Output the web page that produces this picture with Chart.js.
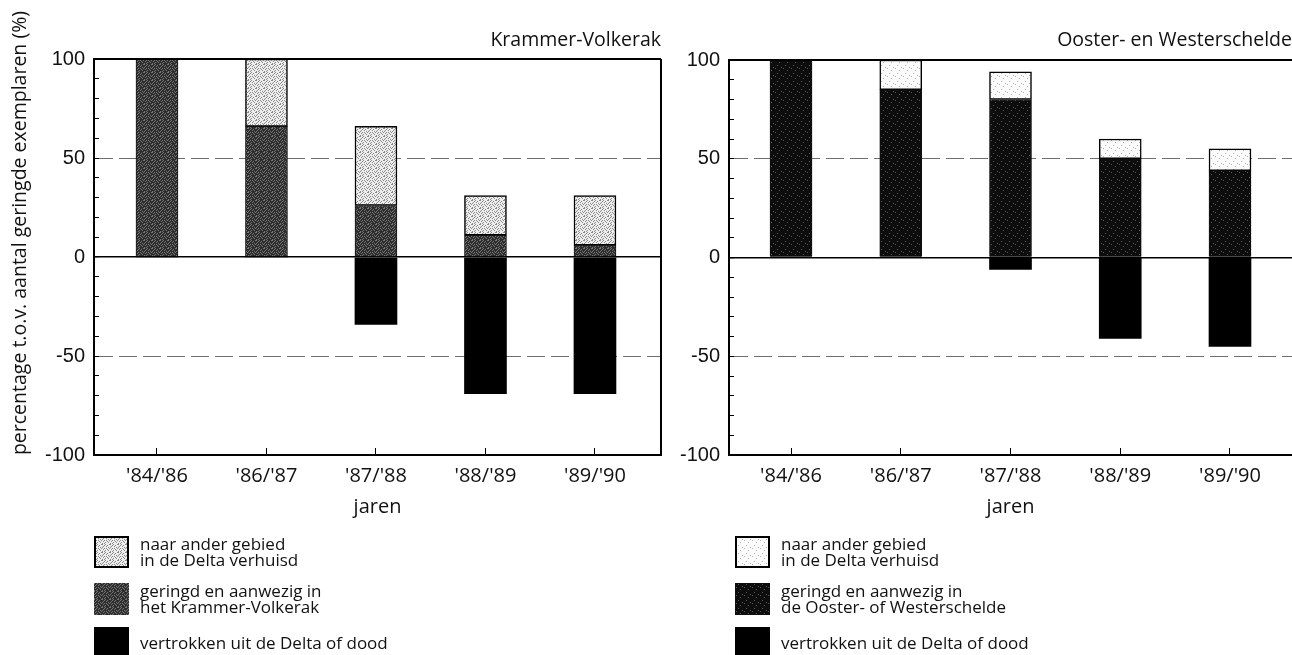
<!DOCTYPE html>
<html>
<head>
<meta charset="utf-8">
<script src="https://cdn.jsdelivr.net/npm/chart.js@4.4.1/dist/chart.umd.min.js"></script>
<style>
  html, body { margin: 0; padding: 0; background: #fff; }
  #wrap { position: relative; width: 1292px; height: 655px; overflow: hidden; background: #fff; }
  canvas.chart { position: absolute; top: 0; }
  #cLeft { left: 0; }
  #cRight { left: 670px; }
  .legend { position: absolute; top: 0; font-family: 'Open Sans', sans-serif; font-size: 17px; line-height: 16px; color: #111; }
  .item { position: absolute; left: 0; display: flex; align-items: center; white-space: nowrap; }
  .item canvas { margin-right: 11px; flex: none; }
</style>
</head>
<body>
<div id="wrap">
  <canvas id="cLeft" class="chart" width="670" height="655"></canvas>
  <canvas id="cRight" class="chart" width="622" height="655"></canvas>
  <div id="legLeft" class="legend" style="left:94px"></div>
  <div id="legRight" class="legend" style="left:735px"></div>
</div>
<script>
// Ringing seasons on the category axis
const jaren = ["'84/'86", "'86/'87", "'87/'88", "'88/'89", "'89/'90"];
const yTicks = [-100, -50, 0, 50, 100];

// Krammer-Volkerak (% of ringed birds)
const kvVerhuisd   = [0, 34, 40, 20, 25];
const kvAanwezig   = [100, 66, 26, 11, 6];
const kvVertrokken = [0, 0, -34, -69, -69];

// Ooster- en Westerschelde (% of ringed birds)
const owVerhuisd   = [0, 15, 14, 10, 11];
const owAanwezig   = [100, 85, 80, 50, 44];
const owVertrokken = [0, 0, -6, -41, -45];

const labelVerhuisd = ['naar ander gebied', 'in de Delta verhuisd'];
const labelAanwezigKV = ['geringd en aanwezig in', 'het Krammer-Volkerak'];
const labelAanwezigOW = ['geringd en aanwezig in', 'de Ooster- of Westerschelde'];
const labelVertrokken = ['vertrokken uit de Delta of dood'];

// stipple tiles for the printed hatching
const DENSE = ["10010001","00100100","01001000","10000010","00101001","01000100","00010010","10100000"];
const SPARSE = ["00000000","00010000","00000000","00000001","01000000","00000000","00000100","00000000"];

function tile(base, dot, rows) {
  const c = document.createElement('canvas');
  c.width = rows[0].length; c.height = rows.length;
  const g = c.getContext('2d');
  g.fillStyle = base; g.fillRect(0, 0, c.width, c.height);
  g.fillStyle = dot;
  rows.forEach((r, y) => [...r].forEach((ch, x) => { if (ch === '1') g.fillRect(x, y, 1, 1); }));
  return c;
}
const tiles = {
  kvLight: tile('#eeeeee', '#8a8a8a', DENSE),
  kvDark:  tile('#2e2e2e', '#767676', DENSE),
  owLight: tile('#fbfbfb', '#b0b0b0', SPARSE),
  owDark:  tile('#0d0d0d', '#5a5a5a', SPARSE),
  black:   tile('#000000', '#000000', SPARSE)
};
function pat(ctx, t) { return ctx.createPattern(tiles[t], 'repeat'); }

const SANS = "'Open Sans', 'DejaVu Sans', sans-serif";
const NUM = "'Liberation Sans', Arial, sans-serif";

// frame lines along the top (and optionally right) of the plot area
const framePlugin = {
  id: 'frame',
  afterDraw(chart, args, opts) {
    const { ctx, chartArea: a } = chart;
    ctx.save();
    ctx.strokeStyle = '#000'; ctx.lineWidth = 2;
    ctx.beginPath();
    ctx.moveTo(a.left - 1, a.top); ctx.lineTo(a.right, a.top);
    if (opts.right) { ctx.moveTo(a.right, a.top); ctx.lineTo(a.right, a.bottom + 1); }
    ctx.stroke();
    ctx.restore();
  }
};

// rotated y-axis caption, anchored at its upper end
const yCaptionPlugin = {
  id: 'yCaption',
  afterDraw(chart, args, opts) {
    if (!opts.text) return;
    const ctx = chart.ctx;
    ctx.save();
    ctx.translate(opts.x, opts.top);
    ctx.rotate(-Math.PI / 2);
    ctx.font = opts.font;
    ctx.fillStyle = '#111';
    ctx.textAlign = 'right';
    ctx.textBaseline = 'middle';
    ctx.fillText(opts.text, 0, 0);
    ctx.restore();
  }
};

function points(arr) { return arr.map((v, i) => ({ x: i, y: v })); }

function makeChart(id, cfg) {
  const canvas = document.getElementById(id);
  const ctx = canvas.getContext('2d');
  const datasets = [
    { label: cfg.lblOut.join(' '), data: points(cfg.out), backgroundColor: pat(ctx, 'black'),
      borderWidth: 0, legendTile: 'black', legendBorder: false },
    { label: cfg.lblIn.join(' '), data: points(cfg.inn), backgroundColor: pat(ctx, cfg.darkTile),
      borderColor: '#111', borderWidth: c => (c.raw && c.raw.y) ? 1 : 0, legendTile: cfg.darkTile, legendBorder: false },
    { label: cfg.lblMoved.join(' '), data: points(cfg.moved), backgroundColor: pat(ctx, cfg.lightTile),
      borderColor: '#000', borderWidth: c => (c.raw && c.raw.y) ? 1.5 : 0, borderSkipped: false,
      legendTile: cfg.lightTile, legendBorder: true }
  ];

  return new Chart(ctx, {
    type: 'bar',
    data: { datasets },
    plugins: [framePlugin, yCaptionPlugin],
    options: {
      responsive: false,
      animation: false,
      devicePixelRatio: 1,
      datasets: { bar: { barThickness: 42 } },
      layout: { padding: { top: 0, left: 0, right: cfg.padRight, bottom: 136 } },
      plugins: {
        legend: { display: false },
        tooltip: { enabled: false },
        title: {
          display: true, text: cfg.title, align: 'end', color: '#111',
          font: { family: SANS, size: 19.5, weight: 'normal', lineHeight: 1.2 },
          padding: { top: 29, bottom: cfg.titleBottom }
        },
        frame: { right: cfg.frameRight },
        yCaption: { text: cfg.yCaption, x: 20, top: 11, font: "19.5px " + SANS }
      },
      scales: {
        x: {
          type: 'linear', stacked: true, offset: false, min: cfg.xMin, max: cfg.xMax,
          afterBuildTicks: s => { s.ticks = jaren.map((_, i) => ({ value: i })); },
          afterFit: s => { s.height = 64; },
          ticks: { autoSkip: false, maxRotation: 0, padding: 16, color: '#111',
                   font: { family: SANS, size: 20 }, callback: v => jaren[v] },
          grid: { offset: false, drawOnChartArea: false, drawTicks: true, tickLength: -7,
                  color: '#000', tickColor: '#000', tickWidth: 1 },
          border: { display: true, color: '#000', width: 2 },
          title: { display: true, text: 'jaren', color: '#111', padding: 0,
                   font: { family: SANS, size: 20, lineHeight: 1.2 } }
        },
        y: {
          type: 'linear', stacked: true, min: -100, max: 100,
          afterFit: s => { s.width = cfg.yWidth; },
          ticks: { stepSize: 10, autoSkip: false, padding: 14, color: '#111',
                   font: { family: NUM, size: 20 },
                   callback: v => yTicks.includes(v) ? String(v) : '' },
          grid: {
            drawTicks: true, tickLength: -5, tickColor: '#000', tickWidth: 1,
            color: c => {
              const v = c.tick ? c.tick.value : null;
              if (v === 0) return '#000';
              if (v === 50 || v === -50) return '#6e6e6e';
              return 'rgba(0,0,0,0)';
            },
            lineWidth: c => (c.tick && c.tick.value === 0) ? 1.5 : 1
          },
          border: {
            display: true, color: '#000', width: 2,
            dash: c => (c.tick && Math.abs(c.tick.value) === 50) ? [18, 6] : []
          }
        }
      }
    }
  });
}

function buildLegend(id, chart, lines) {
  const host = document.getElementById(id);
  const tops = [536, 583, 627];
  const order = [2, 1, 0];
  order.forEach((di, k) => {
    const ds = chart.data.datasets[di];
    const item = document.createElement('div');
    item.className = 'item';
    item.style.top = tops[k] + 'px';
    item.style.height = '32px';
    const sw = document.createElement('canvas');
    sw.width = 35; sw.height = 32;
    const g = sw.getContext('2d');
    g.fillStyle = g.createPattern(tiles[ds.legendTile], 'repeat');
    g.fillRect(0, 0, 35, 32);
    if (ds.legendBorder) { g.strokeStyle = '#000'; g.lineWidth = 2; g.strokeRect(1, 1, 33, 30); }
    item.appendChild(sw);
    const txt = document.createElement('div');
    txt.innerHTML = lines[k].join('<br>');
    item.appendChild(txt);
    host.appendChild(item);
  });
}

const left = makeChart('cLeft', {
  title: 'Krammer-Volkerak', titleBottom: 6.6,
  moved: kvVerhuisd, inn: kvAanwezig, out: kvVertrokken,
  lblMoved: labelVerhuisd, lblIn: labelAanwezigKV, lblOut: labelVertrokken,
  lightTile: 'kvLight', darkTile: 'kvDark',
  padRight: 9, yWidth: 94, xMin: -0.575, xMax: 4.603, frameRight: true,
  yCaption: 'percentage t.o.v. aantal geringde exemplaren (%)'
});
const right = makeChart('cRight', {
  title: 'Ooster- en Westerschelde', titleBottom: 7.6,
  moved: owVerhuisd, inn: owAanwezig, out: owVertrokken,
  lblMoved: labelVerhuisd, lblIn: labelAanwezigOW, lblOut: labelVertrokken,
  lightTile: 'owLight', darkTile: 'owDark',
  padRight: 0, yWidth: 59, xMin: -0.565, xMax: 4.565, frameRight: false,
  yCaption: ''
});

buildLegend('legLeft', left, [labelVerhuisd, labelAanwezigKV, labelVertrokken]);
buildLegend('legRight', right, [labelVerhuisd, labelAanwezigOW, labelVertrokken]);
</script>
</body>
</html>
